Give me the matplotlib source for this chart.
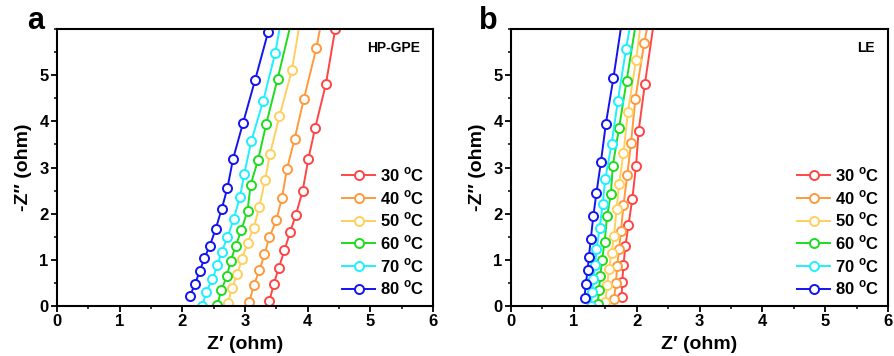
"""
Nyquist plots (zoomed) for HP-GPE and LE at different temperatures.
"""

import matplotlib
matplotlib.use("Agg")
import matplotlib.pyplot as plt
from matplotlib.ticker import MultipleLocator

TEMPS = ["30", "40", "50", "60", "70", "80"]
COLORS = ["#FF4545", "#FF9A3C", "#FFD060", "#1EDC1E", "#1EF0FF", "#1414F0"]

# panel a: HP-GPE  (Z', -Z'')
a_x30 = [3.39, 3.46, 3.54, 3.63, 3.72, 3.81, 3.92, 4.01, 4.12, 4.29, 4.44, 4.58]
a_y30 = [0.11, 0.48, 0.83, 1.21, 1.60, 1.97, 2.49, 3.18, 3.86, 4.80, 6.00, 6.90]
a_x40 = [3.07, 3.14, 3.23, 3.31, 3.39, 3.50, 3.59, 3.67, 3.79, 3.94, 4.14, 4.28]
a_y40 = [0.09, 0.45, 0.77, 1.12, 1.49, 1.86, 2.34, 2.97, 3.61, 4.49, 5.59, 6.60]
a_x50 = [2.73, 2.79, 2.88, 2.95, 3.04, 3.14, 3.23, 3.32, 3.40, 3.55, 3.75, 3.92]
a_y50 = [0.06, 0.40, 0.69, 1.02, 1.37, 1.70, 2.15, 2.73, 3.30, 4.11, 5.12, 6.50]
a_x60 = [2.56, 2.62, 2.71, 2.77, 2.85, 2.94, 3.04, 3.09, 3.21, 3.34, 3.52, 3.80]
a_y60 = [0.02, 0.34, 0.64, 0.97, 1.29, 1.64, 2.06, 2.63, 3.17, 3.95, 4.92, 6.50]
a_x70 = [2.32, 2.38, 2.48, 2.56, 2.63, 2.72, 2.82, 2.92, 2.99, 3.10, 3.29, 3.48, 3.62]
a_y70 = [0.00, 0.30, 0.58, 0.89, 1.18, 1.49, 1.88, 2.37, 2.87, 3.57, 4.44, 5.47, 6.50]
a_x80 = [2.12, 2.20, 2.28, 2.35, 2.44, 2.53, 2.63, 2.72, 2.81, 2.97, 3.16, 3.37, 3.55]
a_y80 = [0.21, 0.47, 0.76, 1.03, 1.31, 1.66, 2.11, 2.56, 3.19, 3.97, 4.89, 5.94, 7.00]

# panel b: LE
b_x30 = [1.76, 1.77, 1.79, 1.82, 1.87, 1.93, 1.99, 2.03, 2.13, 2.28]
b_y30 = [0.19, 0.53, 0.88, 1.30, 1.76, 2.31, 3.04, 3.78, 4.80, 6.20]
b_x40 = [1.64, 1.67, 1.69, 1.72, 1.75, 1.79, 1.85, 1.91, 1.98, 2.12, 2.22]
b_y40 = [0.15, 0.50, 0.87, 1.23, 1.62, 2.18, 2.84, 3.53, 4.49, 5.70, 6.40]
b_x50 = [1.50, 1.53, 1.56, 1.60, 1.64, 1.68, 1.72, 1.79, 1.86, 1.99, 2.10]
b_y50 = [0.09, 0.45, 0.80, 1.15, 1.52, 2.10, 2.64, 3.31, 4.20, 5.32, 6.50]
b_x60 = [1.38, 1.40, 1.42, 1.45, 1.49, 1.53, 1.59, 1.62, 1.72, 1.84, 2.02]
b_y60 = [0.04, 0.35, 0.65, 1.00, 1.39, 1.95, 2.43, 3.04, 3.86, 4.88, 6.40]
b_x70 = [1.27, 1.29, 1.31, 1.34, 1.36, 1.41, 1.46, 1.50, 1.60, 1.70, 1.83, 1.95]
b_y70 = [0.00, 0.30, 0.58, 0.89, 1.23, 1.68, 2.22, 2.75, 3.51, 4.44, 5.56, 6.50]
b_x80 = [1.17, 1.19, 1.22, 1.24, 1.27, 1.31, 1.36, 1.43, 1.51, 1.63, 1.78]
b_y80 = [0.18, 0.47, 0.78, 1.07, 1.45, 1.95, 2.45, 3.11, 3.95, 4.94, 6.30]

A_X = [a_x30, a_x40, a_x50, a_x60, a_x70, a_x80]
A_Y = [a_y30, a_y40, a_y50, a_y60, a_y70, a_y80]
B_X = [b_x30, b_x40, b_x50, b_x60, b_x70, b_x80]
B_Y = [b_y30, b_y40, b_y50, b_y60, b_y70, b_y80]

plt.rcParams.update({
    "font.family": "Liberation Sans",
    "font.weight": "bold",
    "axes.labelweight": "bold",
    "mathtext.fontset": "custom",
    "mathtext.rm": "Liberation Sans:bold",
    "mathtext.bf": "Liberation Sans:bold",
    "axes.linewidth": 1.5,
})


def panel(ax, xs, ys, letter, tag):
    for x, y, t, c in zip(xs, ys, TEMPS, COLORS):
        ax.plot(x, y, "-o", color=c, lw=1.4, ms=6.5, mfc="white", mec=c, mew=1.4,
                label=t + r" $^{\mathrm{o}}$C")
    ax.set_xlim(0, 6)
    ax.set_ylim(0, 6)
    ax.xaxis.set_major_locator(MultipleLocator(1))
    ax.xaxis.set_minor_locator(MultipleLocator(0.5))
    ax.yaxis.set_major_locator(MultipleLocator(1))
    ax.yaxis.set_minor_locator(MultipleLocator(0.5))
    ax.set_yticks([0, 1, 2, 3, 4, 5])
    ax.tick_params(which="major", direction="out", length=4, width=1.3, labelsize=12, pad=2)
    ax.tick_params(which="minor", direction="out", length=2.5, width=1.1)
    ax.set_xlabel("Z\u2032 (ohm)", fontsize=14, labelpad=5)
    ax.set_ylabel("-Z\u2033 (ohm)", fontsize=14, labelpad=5)
    ax.text(-0.035, 1.03, letter, transform=ax.transAxes, fontsize=22, fontweight="bold",
            ha="right", va="center")
    ax.text(0.965, 0.955, tag, transform=ax.transAxes, fontsize=10, fontweight="bold",
            ha="right", va="top")
    ax.legend(loc="lower right", bbox_to_anchor=(1.0, 0.0), frameon=False,
              handlelength=2.0, handletextpad=0.3, labelspacing=0.24, borderaxespad=0.1,
              prop={"weight": "bold", "size": 12})


fig = plt.figure(figsize=(8.94, 3.56), dpi=100)
ax1 = fig.add_axes([57 / 894, 1 - 306 / 356, (433 - 57) / 894, (306 - 29) / 356])
ax2 = fig.add_axes([511 / 894, 1 - 306 / 356, (888 - 511) / 894, (306 - 29) / 356])

panel(ax1, A_X, A_Y, "a", "HP-GPE")
panel(ax2, B_X, B_Y, "b", "LE")

fig.savefig("out.png", dpi=100, facecolor="white")
